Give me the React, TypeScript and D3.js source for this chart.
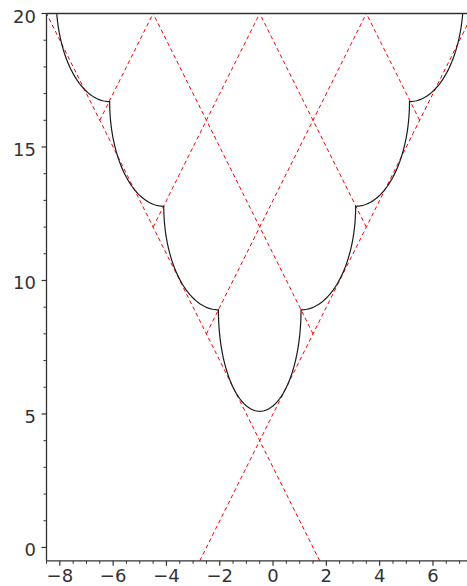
import React from "react";
import * as d3 from "d3";

// ---- axes ----
const xDomain = [-8.5, 7.3];
const yDomain = [-0.5, 20];
const xMajorTicks = [-8, -6, -4, -2, 0, 2, 4, 6];
const yMajorTicks = [0, 5, 10, 15, 20];
const xMinorTicks = [-8.5, -7.5, -7, -6.5, -5.5, -5, -4.5, -3.5, -3, -2.5, -1.5, -1, -0.5, 0.5, 1, 1.5, 2.5, 3, 3.5, 4.5, 5, 5.5, 6.5, 7];
const yMinorTicks = [1, 2, 3, 4, 6, 7, 8, 9, 11, 12, 13, 14, 16, 17, 18, 19];

// ---- red dashed lattice: y = slope*x + c (rising) and y = -slope*x + c (falling) ----
const latticeSlope = 2;
const risingIntercepts = [5, 13, 21, 29]; // first one is the right branch of the V
const fallingIntercepts = [3, 11, 19, 27]; // first one is the left branch of the V

// ---- black curve: corner points (upper-outer to lower-inner) ----
const leftCornerX = [-8.14, -6.13, -4.1, -2.05];
const rightCornerX = [7.14, 5.12, 3.1, 1.05];
const cornerY = [20.6, 16.7, 12.78, 8.9];
const bottomMinY = 5.1;

const W = 467;
const H = 586;
const left = 46.5;
const top = 13.5;
const bottom = 560.8;
const right = 467.6;

export default function App() {
  const x = d3.scaleLinear().domain(xDomain).range([left, right]);
  const y = d3.scaleLinear().domain(yDomain).range([bottom, top]);
  const line = d3
    .line<[number, number]>()
    .x((d) => x(d[0]))
    .y((d) => y(d[1]));

  // red lattice segments
  const segs: [number, number][][] = [];
  const vRight = risingIntercepts[0];
  const vLeft = fallingIntercepts[0];
  risingIntercepts.forEach((c, i) => {
    if (i === 0) {
      segs.push([
        [(yDomain[0] - c) / latticeSlope, yDomain[0]],
        [(yDomain[1] - c) / latticeSlope, yDomain[1]],
      ]);
    } else {
      const xi = (vLeft - c) / (2 * latticeSlope);
      segs.push([
        [xi, latticeSlope * xi + c],
        [(yDomain[1] - c) / latticeSlope, yDomain[1]],
      ]);
    }
  });
  fallingIntercepts.forEach((c, i) => {
    if (i === 0) {
      segs.push([
        [(c - yDomain[0]) / latticeSlope, yDomain[0]],
        [(c - yDomain[1]) / latticeSlope, yDomain[1]],
      ]);
    } else {
      const xi = (c - vRight) / (2 * latticeSlope);
      segs.push([
        [xi, -latticeSlope * xi + c],
        [(c - yDomain[1]) / latticeSlope, yDomain[1]],
      ]);
    }
  });

  // black curve built from quarter ellipses between corners
  const N = 60;
  const pts: [number, number][] = [];
  const quarter = (xa: number, ya: number, xb: number, yb: number, out: [number, number][]) => {
    for (let k = 0; k <= N; k++) {
      const t = (k / N) * (Math.PI / 2);
      out.push([xb - (xb - xa) * Math.cos(t), ya - (ya - yb) * Math.sin(t)]);
    }
  };
  for (let i = 0; i < leftCornerX.length - 1; i++) {
    quarter(leftCornerX[i], cornerY[i], leftCornerX[i + 1], cornerY[i + 1], pts);
  }
  const xl = leftCornerX[leftCornerX.length - 1];
  const xr = rightCornerX[rightCornerX.length - 1];
  const yc = cornerY[cornerY.length - 1];
  const cx = (xl + xr) / 2;
  const a = (xr - xl) / 2;
  const b = yc - bottomMinY;
  for (let k = 0; k <= 2 * N; k++) {
    const t = (k / (2 * N)) * Math.PI;
    pts.push([cx - a * Math.cos(t), yc - b * Math.sin(t)]);
  }
  const rightPts: [number, number][] = [];
  for (let i = 0; i < rightCornerX.length - 1; i++) {
    quarter(rightCornerX[i], cornerY[i], rightCornerX[i + 1], cornerY[i + 1], rightPts);
  }
  rightPts.reverse();
  pts.push(...rightPts);

  const axisColor = "#333";
  const textStyle = {
    fontFamily: "DejaVu Sans",
    fontSize: 18,
    fill: "#333",
  } as const;

  return (
    <svg
      width={W}
      height={H}
      style={{ position: "absolute", left: 0, top: 0, background: "#fff" }}
    >
      <defs>
        <clipPath id="plot">
          <rect x={left} y={top - 0.5} width={right - left + 5} height={bottom - top + 0.5} />
        </clipPath>
      </defs>
      <g clipPath="url(#plot)">
        {segs.map((s, i) => (
          <path
            key={i}
            d={line(s) || ""}
            fill="none"
            stroke="#ff0000"
            strokeWidth={1}
            strokeDasharray="4,3"
          />
        ))}
        <path d={line(pts) || ""} fill="none" stroke="#1a1a1a" strokeWidth={1.2} />
      </g>
      {/* frame lines */}
      <line x1={left} x2={W} y1={top} y2={top} stroke={axisColor} strokeWidth={1.3} />
      <line x1={left} x2={left} y1={top} y2={bottom} stroke={axisColor} strokeWidth={1.3} />
      <line x1={left} x2={W} y1={bottom} y2={bottom} stroke={axisColor} strokeWidth={1.3} />
      {/* y ticks */}
      {yMajorTicks.map((v) => (
        <g key={"ym" + v}>
          <line x1={left - 5} x2={left} y1={y(v)} y2={y(v)} stroke={axisColor} strokeWidth={1.2} />
          <text x={36} y={y(v) + 9} textAnchor="end" style={textStyle}>
            {v}
          </text>
        </g>
      ))}
      {yMinorTicks.map((v) => (
        <line key={"yn" + v} x1={left - 3} x2={left} y1={y(v)} y2={y(v)} stroke={axisColor} strokeWidth={1} />
      ))}
      {/* x ticks */}
      {xMajorTicks.map((v) => (
        <g key={"xm" + v}>
          <line x1={x(v)} x2={x(v)} y1={bottom} y2={bottom + 5} stroke={axisColor} strokeWidth={1.2} />
          <text x={x(v)} y={581.5} textAnchor="middle" style={textStyle}>
            {v < 0 ? "\u2212" + Math.abs(v) : String(v)}
          </text>
        </g>
      ))}
      {xMinorTicks.map((v) => (
        <line key={"xn" + v} x1={x(v)} x2={x(v)} y1={bottom} y2={bottom + 3} stroke={axisColor} strokeWidth={1} />
      ))}
    </svg>
  );
}
